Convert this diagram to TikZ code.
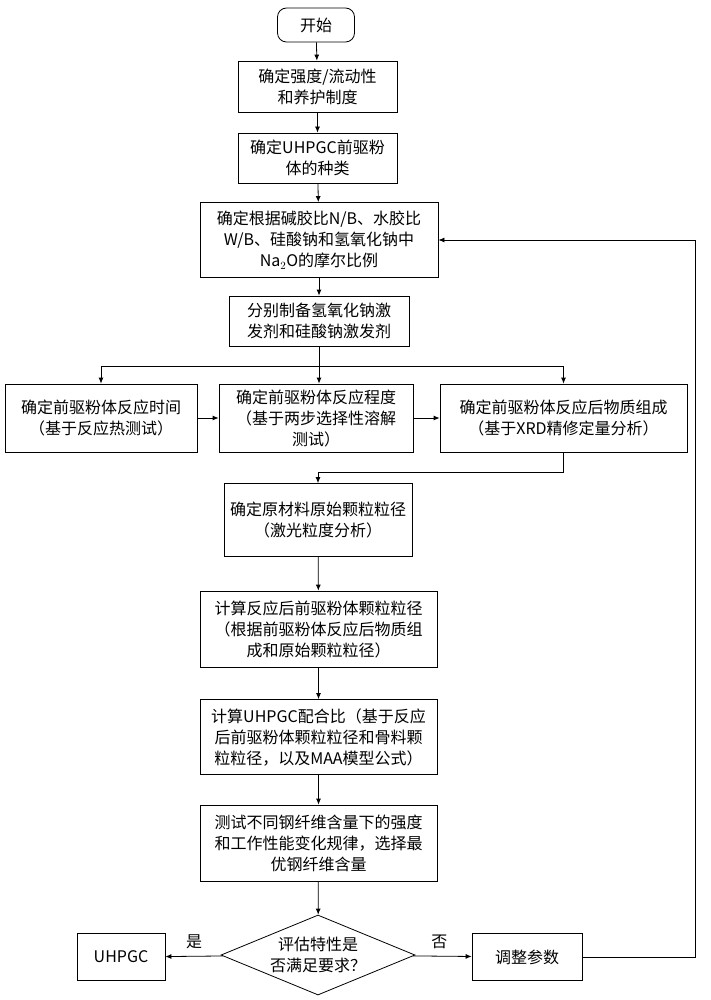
\documentclass[tikz,border=0pt]{standalone}
\usepackage{fontspec}
\setmainfont{Noto Sans CJK SC}
\usetikzlibrary{shapes.geometric,arrows.meta}
\begin{document}
\begin{tikzpicture}[x=1pt,y=-1pt,
  box/.style={draw,thick,fill=white,align=center,font=\fontsize{16}{21}\selectfont,inner sep=1pt},
  arr/.style={thick,-{Latex[length=6pt,width=5pt]}},
  ln/.style={thick}]
\useasboundingbox (0,0) rectangle (711,1000);
\node[box,rounded corners=9pt,minimum width=77,minimum height=34] (s) at (316,25) {开始};
\node[box,minimum width=159,minimum height=51] (b1) at (317.5,86.5) {确定强度/流动性\\和养护制度};
\node[box,minimum width=159,minimum height=50] (b2) at (317.5,158) {确定UHPGC前驱粉\\体的种类};
\node[box,minimum width=238,minimum height=75] (b3) at (319,240) {确定根据碱胶比N/B、水胶比\\W/B、硅酸钠和氢氧化钠中\\Na$_2$O的摩尔比例};
\node[box,minimum width=180,minimum height=50] (b4) at (319,321) {分别制备氢氧化钠激\\发剂和硅酸钠激发剂};
\node[box,minimum width=192,minimum height=68] (r1) at (101,418) {确定前驱粉体反应时间\\（基于反应热测试）};
\node[box,minimum width=194,minimum height=68] (r2) at (316,418) {确定前驱粉体反应程度\\（基于两步选择性溶解\\测试）};
\node[box,minimum width=247,minimum height=68] (r3) at (563.5,418) {确定前驱粉体反应后物质组成\\（基于XRD精修定量分析）};
\node[box,minimum width=188,minimum height=73] (b6) at (318,520) {确定原材料原始颗粒粒径\\（激光粒度分析）};
\node[box,minimum width=237,minimum height=76] (b7) at (318.5,629) {计算反应后前驱粉体颗粒粒径\\（根据前驱粉体反应后物质组\\成和原始颗粒粒径）};
\node[box,minimum width=237,minimum height=75] (b8) at (318.5,737) {计算UHPGC配合比（基于反应\\后前驱粉体颗粒粒径和骨料颗\\粒粒径，以及MAA模型公式）};
\node[box,minimum width=237,minimum height=76] (b9) at (318.5,843) {测试不同钢纤维含量下的强度\\和工作性能变化规律，选择最\\优钢纤维含量};
\node[box,diamond,aspect=2.4,minimum width=194,minimum height=80,inner sep=0pt] (d) at (318,955) {评估特性是\\否满足要求？};
\node[box,minimum width=88,minimum height=47] (u) at (121,957) {UHPGC};
\node[box,minimum width=110,minimum height=47] (t) at (527,957) {调整参数};
\draw[arr] (s) -- (b1);
\draw[arr] (b1) -- (b2);
\draw[arr] (b2) -- (b3);
\draw[arr] (b3) -- (b4);
\coordinate (j) at (319,366);
\draw[ln] (b4.south) -- (j);
\draw[arr] (j) -| (r1.north);
\draw[arr] (j) -| (r3.north);
\draw[arr] (j) -- (j |- r2.north);
\draw[arr] (r1) -- (r2);
\draw[arr] (r2) -- (r3);
\coordinate (k) at (563.5,472);
\draw[ln] (r3.south) -- (k);
\draw[arr] (k) -| (b6.north);
\draw[arr] (b6) -- (b7);
\draw[arr] (b7) -- (b8);
\draw[arr] (b8) -- (b9);
\draw[arr] (b9) -- (d);
\draw[arr] (d) -- node[above,pos=0.5,font=\fontsize{16}{21}\selectfont,yshift=4pt]{是} (u);
\draw[arr] (d) -- node[above,pos=0.45,font=\fontsize{16}{21}\selectfont,yshift=4pt]{否} (t);
\coordinate (f) at (695,957);
\draw[arr] (t) -- (f) |- (b3.east);
\end{tikzpicture}
\end{document}
